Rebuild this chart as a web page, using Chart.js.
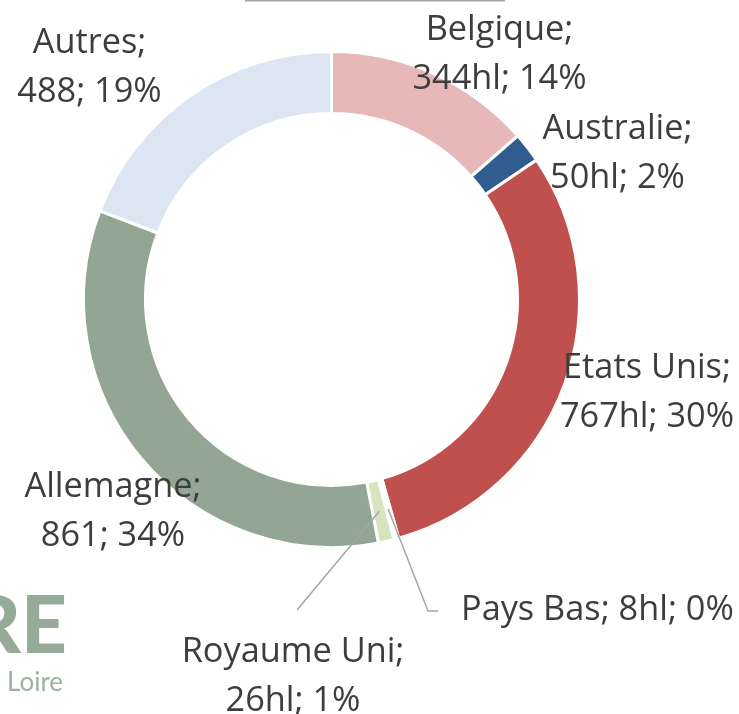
<!DOCTYPE html>
<html>
<head>
<meta charset="utf-8">
<script src="https://cdn.jsdelivr.net/npm/chart.js@4.4.1/dist/chart.umd.min.js"></script>
<style>
html,body{margin:0;padding:0;background:#ffffff;overflow:hidden}
#wrap{position:relative;width:739px;height:714px}
canvas{display:block}
</style>
</head>
<body>
<div id="wrap"><canvas id="c" width="739" height="714"></canvas></div>
<script>
// ---- data ----
const categories = ['Belgique', 'Australie', 'Etats Unis', 'Pays Bas', 'Royaume Uni', 'Allemagne', 'Autres'];
const volumes    = [344, 50, 767, 8, 26, 861, 488];
const units      = ['hl', 'hl', 'hl', 'hl', 'hl', '', ''];

// ---- styling ----
const sliceColors = ['#E6B9B8', '#2F5D8F', '#C0504D', '#FFFFFF', '#D7E4BD', '#93A593', '#DCE6F2'];
// label anchor offsets relative to the doughnut centre: [dx, dyBaseline, align, oneLine]
const labelLayout = [
  [168, -259.5, 'center', false],
  [286, -160.5, 'center', false],
  [315.5, 78.5, 'center', false],
  [129.5, 320.5, 'left', true],
  [-38.5, 362.5, 'center', false],
  [-218.5, 197.5, 'center', false],
  [-242, -246.5, 'center', false]
];
// leader lines: index -> list of points relative to the centre (after the arc start point)
const leaders = {
  3: [[96.5, 311.5], [106.5, 311.5]],
  4: [[-34.5, 310.5]]
};
const LINE_GAP = 49;
const total = volumes.reduce((a, b) => a + b, 0);

const labelsPlugin = {
  id: 'sliceLabels',
  afterDatasetsDraw(chart) {
    const ctx = chart.ctx;
    const meta = chart.getDatasetMeta(0);
    const arc0 = meta.data[0];
    const cx = arc0.x, cy = arc0.y;
    ctx.save();
    // leader lines
    ctx.strokeStyle = '#A6A6A6';
    ctx.lineWidth = 1.5;
    Object.keys(leaders).forEach(k => {
      const arc = meta.data[+k];
      const p = arc.getCenterPoint();
      ctx.beginPath();
      ctx.moveTo(p.x, p.y);
      leaders[k].forEach(pt => ctx.lineTo(cx + pt[0], cy + pt[1]));
      ctx.stroke();
    });
    // labels
    ctx.fillStyle = '#3D3D3D';
    ctx.font = '500 34.3px "Open Sans"';
    ctx.textBaseline = 'alphabetic';
    categories.forEach((name, i) => {
      const pct = Math.round(volumes[i] / total * 100);
      const second = volumes[i] + units[i] + '; ' + pct + '%';
      const [dx, dy, align, oneLine] = labelLayout[i];
      ctx.textAlign = align;
      if (oneLine) {
        ctx.fillText(name + '; ' + second, cx + dx, cy + dy);
      } else {
        ctx.fillText(name + ';', cx + dx, cy + dy);
        ctx.fillText(second, cx + dx, cy + dy + LINE_GAP);
      }
    });
    ctx.restore();
  },
  afterDraw(chart) {
    const ctx = chart.ctx;
    ctx.save();
    // top frame line fragment
    ctx.strokeStyle = '#A6A6A6';
    ctx.lineWidth = 2;
    ctx.beginPath();
    ctx.moveTo(245, 0.5);
    ctx.lineTo(505, 0.5);
    ctx.stroke();
    // partial logo
    ctx.fillStyle = '#95AB98';
    ctx.font = '900 80px Lato';
    ctx.textAlign = 'right';
    ctx.textBaseline = 'alphabetic';
    ctx.fillText('RE', 67, 653);
    ctx.fillStyle = '#9DB3A0';
    ctx.font = '400 26px Lato';
    ctx.textAlign = 'left';
    ctx.fillText('Loire', 7, 691);
    ctx.restore();
  }
};

new Chart(document.getElementById('c'), {
  type: 'doughnut',
  data: {
    labels: categories,
    datasets: [{
      data: volumes,
      backgroundColor: sliceColors,
      borderColor: '#FFFFFF',
      borderWidth: 3,
      hoverOffset: 0
    }]
  },
  options: {
    responsive: false,
    animation: false,
    cutout: '75%',
    rotation: 0,
    layout: { padding: { left: 82, right: 158, top: 50, bottom: 165 } },
    plugins: {
      legend: { display: false },
      tooltip: { enabled: false },
      title: { display: false }
    }
  },
  plugins: [labelsPlugin]
});
</script>
</body>
</html>
